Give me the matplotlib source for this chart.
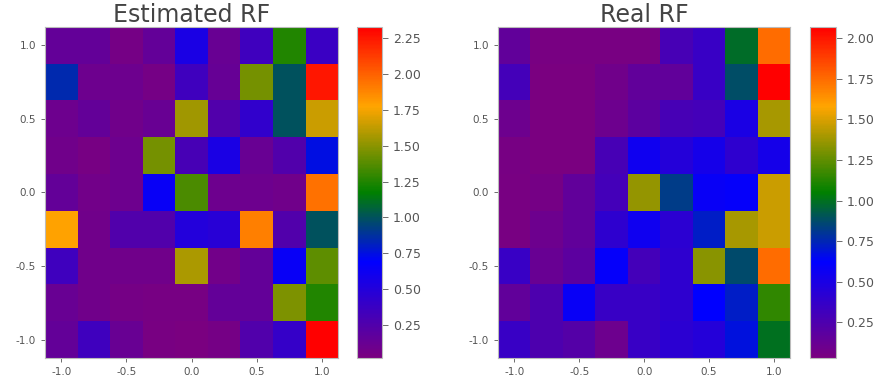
import numpy as np
import matplotlib.pyplot as plt
from matplotlib.colors import LinearSegmentedColormap
from matplotlib.ticker import MultipleLocator

plt.rcParams['font.family'] = ['DejaVu Sans']
plt.rcParams['axes.unicode_minus'] = False

# grid centres
xs = [-1.0, -0.75, -0.5, -0.25, 0.0, 0.25, 0.5, 0.75, 1.0]
ys = [-1.0, -0.75, -0.5, -0.25, 0.0, 0.25, 0.5, 0.75, 1.0]

# estimated receptive field, rows from y=1.0 down to y=-1.0
est_rf = [
    [0.15, 0.15, 0.05, 0.15, 0.55, 0.12, 0.35, 1.25, 0.38],
    [0.85, 0.10, 0.10, 0.05, 0.35, 0.13, 1.45, 1.00, 2.25],
    [0.10, 0.15, 0.08, 0.12, 1.55, 0.25, 0.42, 1.00, 1.65],
    [0.08, 0.04, 0.10, 1.45, 0.30, 0.55, 0.12, 0.25, 0.75],
    [0.15, 0.07, 0.10, 0.65, 1.35, 0.10, 0.10, 0.08, 1.95],
    [1.78, 0.08, 0.25, 0.25, 0.50, 0.48, 1.90, 0.25, 1.00],
    [0.35, 0.08, 0.08, 0.08, 1.58, 0.07, 0.15, 0.65, 1.40],
    [0.12, 0.08, 0.05, 0.04, 0.04, 0.15, 0.15, 1.47, 1.25],
    [0.15, 0.35, 0.12, 0.03, 0.02, 0.05, 0.25, 0.40, 2.33],
]

# real receptive field
real_rf = [
    [0.15, 0.04, 0.04, 0.04, 0.04, 0.28, 0.35, 0.98, 1.75],
    [0.30, 0.03, 0.03, 0.08, 0.15, 0.15, 0.35, 0.88, 2.07],
    [0.10, 0.03, 0.03, 0.10, 0.18, 0.28, 0.30, 0.50, 1.40],
    [0.05, 0.03, 0.03, 0.28, 0.55, 0.45, 0.52, 0.40, 0.52],
    [0.04, 0.06, 0.15, 0.30, 1.36, 0.82, 0.58, 0.60, 1.47],
    [0.04, 0.10, 0.15, 0.40, 0.55, 0.42, 0.72, 1.40, 1.47],
    [0.35, 0.12, 0.18, 0.60, 0.30, 0.40, 1.33, 0.87, 1.75],
    [0.15, 0.25, 0.58, 0.35, 0.35, 0.40, 0.62, 0.72, 1.15],
    [0.35, 0.25, 0.22, 0.10, 0.35, 0.42, 0.45, 0.68, 1.00],
]

titles = ['Estimated RF', 'Real RF']

cmap = LinearSegmentedColormap.from_list(
    'rf', [(0.0, '#7a0080'), (0.29, '#0000ff'), (0.5, '#008000'),
           (0.76, '#ffa500'), (1.0, '#ff0000')])

fig = plt.figure(figsize=(8.83, 3.78), dpi=100)
ax_pos = [[0.051, 0.053, 0.332, 0.876], [0.564, 0.053, 0.331, 0.876]]
cb_pos = [[0.404, 0.053, 0.029, 0.876], [0.917, 0.053, 0.030, 0.876]]

for data, title, ap, cp in zip([est_rf, real_rf], titles, ax_pos, cb_pos):
    ax = fig.add_axes(ap)
    z = np.array(data)[::-1]
    m = ax.pcolormesh(xs, ys, z, cmap=cmap, shading='nearest')
    ax.set_xticks([-1.0, -0.5, 0.0, 0.5, 1.0])
    ax.set_yticks([-1.0, -0.5, 0.0, 0.5, 1.0])
    ax.set_title(title, fontsize=17, color='#444444', pad=3)
    cax = fig.add_axes(cp)
    cb = fig.colorbar(m, cax=cax)
    cb.ax.yaxis.set_major_locator(MultipleLocator(0.25))
    cb.outline.set_edgecolor('#bbbbbb')
    for a in (ax, cax):
        a.tick_params(labelsize=7.5, colors='#555555', length=3, width=0.6)
        for s in a.spines.values():
            s.set_edgecolor('#bbbbbb')
    cb.ax.tick_params(labelsize=9, length=4)

fig.savefig('out.png', dpi=100)
